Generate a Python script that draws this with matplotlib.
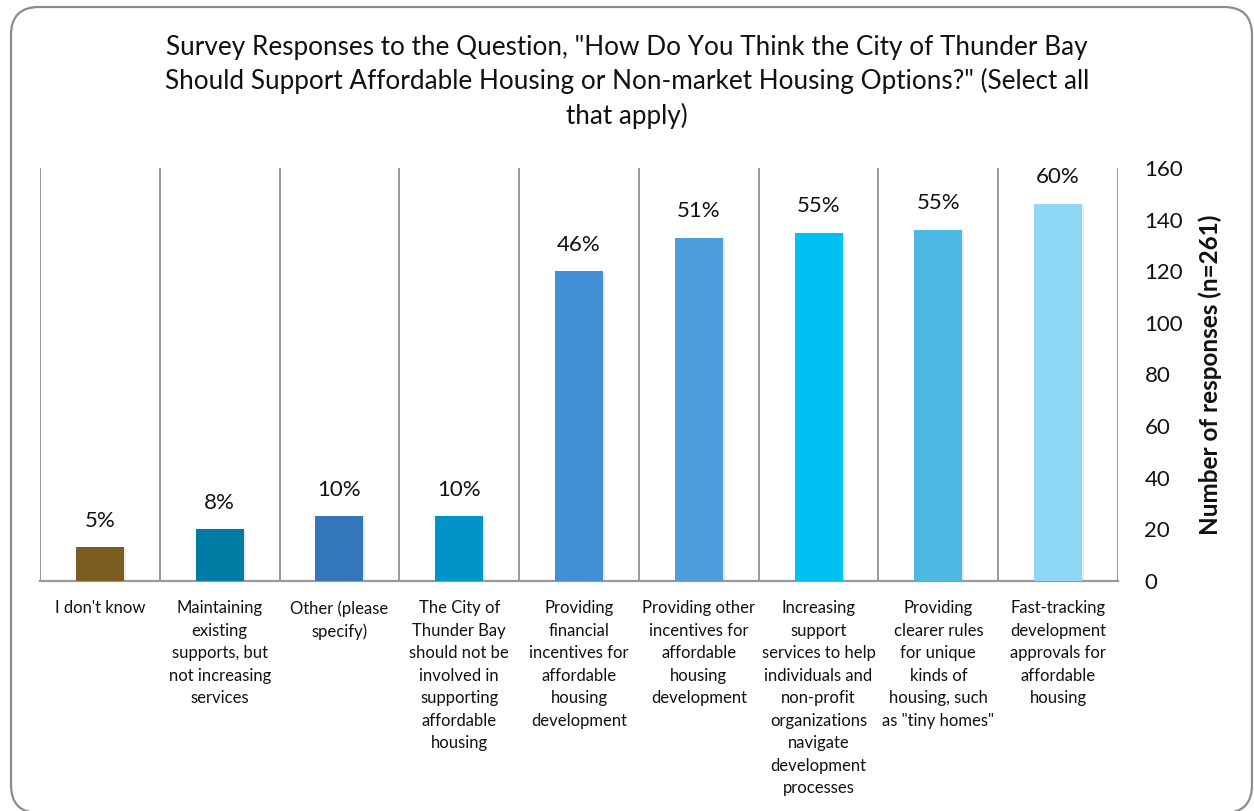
import matplotlib
matplotlib.use("Agg")
import matplotlib.pyplot as plt
from matplotlib.patches import FancyBboxPatch
from matplotlib.transforms import IdentityTransform
import matplotlib.patheffects as pe

categories = [
    "I don't know",
    "Maintaining\nexisting\nsupports, but\nnot increasing\nservices",
    "Other (please\nspecify)",
    "The City of\nThunder Bay\nshould not be\ninvolved in\nsupporting\naffordable\nhousing",
    "Providing\nfinancial\nincentives for\naffordable\nhousing\ndevelopment",
    "Providing other\nincentives for\naffordable\nhousing\ndevelopment",
    "Increasing\nsupport\nservices to help\nindividuals and\nnon-profit\norganizations\nnavigate\ndevelopment\nprocesses",
    "Providing\nclearer rules\nfor unique\nkinds of\nhousing, such\nas \"tiny homes\"",
    "Fast-tracking\ndevelopment\napprovals for\naffordable\nhousing",
]
responses = [13, 20, 25, 25, 120, 133, 135, 136, 146]
percent_labels = ["5%", "8%", "10%", "10%", "46%", "51%", "55%", "55%", "60%"]
bar_colors = ["#7B5C22", "#007BA3", "#3477B9", "#0094C8", "#428FD6",
              "#4F9EDC", "#00C0F2", "#4DB9E3", "#8FD8F5"]
y_ticks = [0, 20, 40, 60, 80, 100, 120, 140, 160]

title = ('Survey Responses to the Question, "How Do You Think the City of Thunder Bay\n'
         'Should Support Affordable Housing or Non-market Housing Options?" (Select all\n'
         'that apply)')
y_label = "Number of responses (n=261)"

plt.rcParams["font.family"] = ["Lato", "DejaVu Sans"]

W, H = 1254, 811
fig = plt.figure(figsize=(W / 100, H / 100), dpi=100)

# rounded outer frame
frame = FancyBboxPatch((11, -2), 1241, 806, boxstyle="round,pad=0,rounding_size=28",
                       transform=IdentityTransform(), fill=False,
                       edgecolor="#8c8c8c", linewidth=1.6)
fig.patches.append(frame)

ax = fig.add_axes([40 / W, 1 - 581 / H, 1078 / W, 413 / H])
x = list(range(len(categories)))
bars = ax.bar(x, responses, width=0.4, color=bar_colors, zorder=3)
for b in bars:
    b.set_path_effects([pe.SimplePatchShadow(offset=(1.5, -1), shadow_rgbFace="#b0b0b0", alpha=0.25),
                        pe.Normal()])

for xi, val, lab in zip(x, responses, percent_labels):
    ax.annotate(lab, (xi, val), xytext=(0, 12), textcoords="offset points",
                ha="center", va="bottom", fontsize=16, color="#111111")

ax.set_xlim(-0.5, len(categories) - 0.5)
ax.set_ylim(0, 160)

ax.set_xticks(x)
ax.set_xticklabels(categories, fontsize=12, linespacing=1.5, color="#111111",
                   va="top", multialignment="center")
ax.tick_params(axis="x", length=0, pad=14)

ax.set_xticks([i - 0.5 for i in range(len(categories) + 1)], minor=True)
ax.tick_params(axis="x", which="minor", length=0)
ax.grid(True, which="minor", axis="x", color="#999999", linewidth=1.4, zorder=0)

ax.yaxis.tick_right()
ax.set_yticks(y_ticks)
ax.set_yticklabels([str(t) for t in y_ticks], fontsize=16, color="#111111")
ax.tick_params(axis="y", length=0, pad=19)

for side in ["top", "left", "right"]:
    ax.spines[side].set_visible(False)
ax.spines["bottom"].set_color("#999999")
ax.spines["bottom"].set_linewidth(1.6)

fig.text(1210 / W, 1 - 375 / H, y_label, rotation=90, ha="center", va="center",
         fontsize=17.5, fontweight="bold", color="#111111")

fig.text(627 / W, 1 - 82 / H, title, ha="center", va="center", fontsize=18.8,
         linespacing=1.42, color="#111111")

fig.savefig("out.png", dpi=100)
